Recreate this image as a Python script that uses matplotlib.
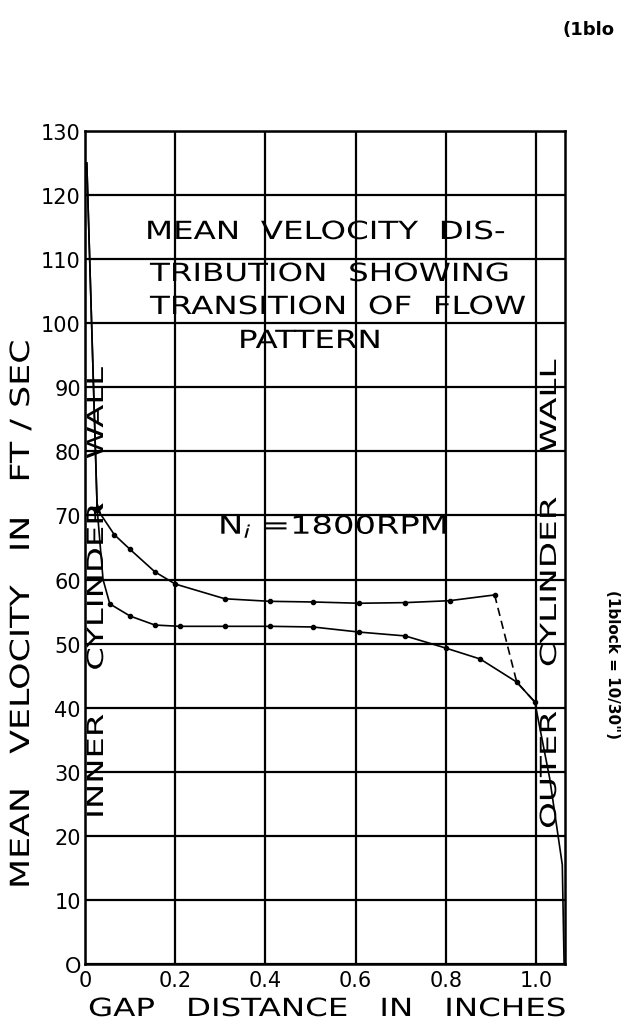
import matplotlib
matplotlib.use('Agg')
import matplotlib.pyplot as plt
from matplotlib.patheffects import AbstractPathEffect
from matplotlib.transforms import Affine2D

# (gap distance in inches, mean velocity in ft/sec)
upper_x = [0.004, 0.027, 0.065, 0.10, 0.155, 0.20, 0.31, 0.41, 0.505, 0.608, 0.71, 0.808, 0.908]
upper_y = [125.0, 71.0, 67.0, 64.7, 61.2, 59.3, 57.0, 56.6, 56.5, 56.3, 56.4, 56.7, 57.6]

dash_x = [0.908, 0.957, 0.997]
dash_y = [57.6, 44.0, 40.9]

lower_x = [0.004, 0.027, 0.040, 0.055, 0.10, 0.155, 0.21, 0.31, 0.41, 0.505, 0.608, 0.71, 0.80, 0.876, 0.957, 0.997, 1.030, 1.058, 1.062]
lower_y = [125.0, 71.0, 60.0, 56.2, 54.3, 52.9, 52.7, 52.7, 52.7, 52.6, 51.8, 51.2, 49.3, 47.6, 44.0, 40.9, 29.0, 15.5, 0.0]

x_ticks = [0, 0.2, 0.4, 0.6, 0.8, 1.0]
x_labels = ['0', '0.2', '0.4', '0.6', '0.8', '1.0']
y_ticks = list(range(0, 131, 10))
y_labels = ['O', '10', '20', '30', '40', '50', '60', '70', '80', '90', '100', '110', '120', '130']


class Stretch(AbstractPathEffect):
    # widen lettering along the baseline, like the hand-lettered original
    def __init__(self, sx):
        super().__init__()
        self.sx = sx

    def draw_path(self, renderer, gc, tpath, affine, rgbFace=None):
        renderer.draw_path(gc, tpath, Affine2D().scale(self.sx, 1) + affine, rgbFace)


def px(x, y):
    return x / 625, 1 - y / 1020


plt.rcParams['font.family'] = ['DejaVu Sans']

fig = plt.figure(figsize=(6.25, 10.2), dpi=100)
ax = fig.add_axes([0.136, 0.0539, 0.768, 0.8167])

ax.plot(upper_x, upper_y, color='black', linewidth=1.2)
ax.plot(upper_x[2:], upper_y[2:], 'o', color='black', markersize=3)
ax.plot(dash_x, dash_y, color='black', linewidth=1.2, linestyle=(0, (5, 3)))
ax.plot(lower_x, lower_y, color='black', linewidth=1.2)
ax.plot(lower_x[3:16], lower_y[3:16], 'o', color='black', markersize=3)
ax.plot([lower_x[1]], [lower_y[1]], '*', color='black', markersize=7)

ax.set_xlim(0, 1.064)
ax.set_ylim(0, 130)
ax.set_xticks(x_ticks)
ax.set_xticklabels(x_labels, fontsize=15)
ax.set_yticks(y_ticks)
ax.set_yticklabels(y_labels, fontsize=15)
ax.tick_params(axis='x', length=0, pad=4)
ax.tick_params(axis='y', length=0, pad=3)
ax.grid(True, color='black', linewidth=1.6)
for s in ax.spines.values():
    s.set_linewidth(1.8)

fig.text(*px(22, 890), 'MEAN   VELOCITY   IN   FT / SEC', rotation=90,
         ha='center', va='bottom', fontsize=19, path_effects=[Stretch(1.32)])
fig.text(*px(88, 1010), 'GAP   DISTANCE   IN   INCHES', ha='left', va='center',
         fontsize=18, path_effects=[Stretch(1.3)])

title_lines = [('MEAN  VELOCITY  DIS-', 145, 233),
               ('TRIBUTION  SHOWING', 150, 275),
               ('TRANSITION  OF  FLOW', 150, 308),
               ('PATTERN', 238, 342)]
for txt, xp, yp in title_lines:
    fig.text(*px(xp, yp), txt, ha='left', va='center', fontsize=18,
             path_effects=[Stretch(1.3)])

fig.text(*px(218, 528), r'N$_i$ =1800RPM', ha='left', va='center', fontsize=18,
         path_effects=[Stretch(1.35)])

fig.text(*px(97, 820), 'INNER    CYLINDER    WALL', rotation=90,
         ha='center', va='bottom', fontsize=16, path_effects=[Stretch(1.52)])
fig.text(*px(550, 830), 'OUTER    CYLINDER    WALL', rotation=90,
         ha='center', va='bottom', fontsize=16, path_effects=[Stretch(1.54)])

fig.text(*px(612, 665), '(1block = 10/30")', rotation=-90,
         ha='center', va='center', fontsize=11, fontweight='bold')
fig.text(*px(563, 30), '(1blo', ha='left', va='center', fontsize=13, fontweight='bold')

fig.savefig('out.png', dpi=100)
